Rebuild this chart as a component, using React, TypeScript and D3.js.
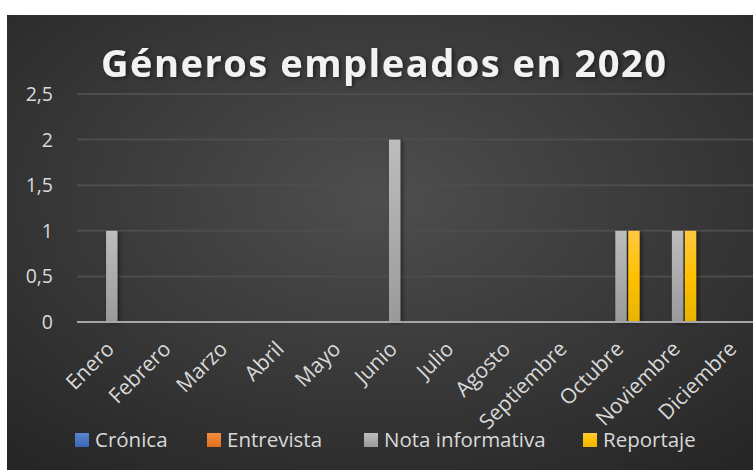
import React from 'react';
import * as d3 from 'd3';

const months = ['Enero', 'Febrero', 'Marzo', 'Abril', 'Mayo', 'Junio', 'Julio', 'Agosto', 'Septiembre', 'Octubre', 'Noviembre', 'Diciembre'];
const series = ['Crónica', 'Entrevista', 'Nota informativa', 'Reportaje'];
const cronica = [0, 0, 0, 0, 0, 0, 0, 0, 0, 0, 0, 0];
const entrevista = [0, 0, 0, 0, 0, 0, 0, 0, 0, 0, 0, 0];
const notaInformativa = [1, 0, 0, 0, 0, 2, 0, 0, 0, 1, 1, 0];
const reportaje = [0, 0, 0, 0, 0, 0, 0, 0, 0, 1, 1, 0];
const yTicks = [0, 0.5, 1, 1.5, 2, 2.5];

const seriesValues = [cronica, entrevista, notaInformativa, reportaje];
const gradIds = ['gBlue', 'gOrange', 'gGray', 'gGold'];

const W = 753, H = 470;
const margin = { top: 94, right: -3, bottom: 148, left: 77 };

const fmt = (v: number) => String(v).replace('.', ',');

export default function App() {
  const x0 = d3.scaleBand<string>()
    .domain(months)
    .range([margin.left, W - margin.right])
    .paddingInner(0.115)
    .paddingOuter(0.0575);

  const x1 = d3.scaleBand<string>()
    .domain(series)
    .range([0, x0.bandwidth()])
    .paddingInner(0.12);

  const y = d3.scaleLinear()
    .domain([0, 2.5])
    .range([H - margin.bottom, margin.top]);

  const font = "'Open Sans', 'Noto Sans', sans-serif";

  const legendX = [75, 207, 364, 583];

  return (
    <svg width={W} height={H} style={{ position: 'fixed', left: 0, top: 0 }}>
      <defs>
        <radialGradient id="bg" cx="50%" cy="40%" r="75%">
          <stop offset="0%" stopColor="#4e4e4e" />
          <stop offset="100%" stopColor="#262626" />
        </radialGradient>
        <linearGradient id="gGray" x1="0" y1="0" x2="0" y2="1">
          <stop offset="0%" stopColor="#bdbdbd" />
          <stop offset="100%" stopColor="#9a9a9a" />
        </linearGradient>
        <linearGradient id="gGold" x1="0" y1="0" x2="0" y2="1">
          <stop offset="0%" stopColor="#ffc940" />
          <stop offset="50%" stopColor="#ffc000" />
          <stop offset="100%" stopColor="#e8b400" />
        </linearGradient>
        <linearGradient id="gBlue" x1="0" y1="0" x2="0" y2="1">
          <stop offset="0%" stopColor="#5b85d0" />
          <stop offset="100%" stopColor="#3a66b8" />
        </linearGradient>
        <linearGradient id="gOrange" x1="0" y1="0" x2="0" y2="1">
          <stop offset="0%" stopColor="#f49040" />
          <stop offset="100%" stopColor="#e06e20" />
        </linearGradient>
        <filter id="shadow" x="-50%" y="-50%" width="200%" height="200%">
          <feDropShadow dx="2" dy="1" stdDeviation="2" floodColor="#000" floodOpacity="0.5" />
        </filter>
      </defs>

      <rect x={0} y={0} width={W} height={H} fill="#ffffff" />
      <rect x={7} y={15} width={W - 7} height={H - 15} fill="url(#bg)" />

      <text
        x={383.5}
        y={77}
        textAnchor="middle"
        fill="#f2f2f2"
        fontFamily={font}
        fontWeight={700}
        fontSize={38}
        textLength={565}
        lengthAdjust="spacing"
        filter="url(#shadow)"
      >
        Géneros empleados en 2020
      </text>

      {yTicks.map(t => (
        <g key={t}>
          {t > 0 && (
            <line x1={margin.left} x2={W} y1={y(t)} y2={y(t)} stroke="#4d4d4d" strokeWidth={2} />
          )}
          <text
            x={53}
            y={y(t)}
            dy="0.36em"
            textAnchor="end"
            fill="#d9d9d9"
            fontFamily={font}
            fontSize={19.5}
          >
            {fmt(t)}
          </text>
        </g>
      ))}

      {months.map((m, i) => (
        <g key={m} transform={`translate(${x0(m)}, 0)`}>
          {series.map((s, j) => {
            const v = seriesValues[j][i];
            if (!v) return null;
            return (
              <rect
                key={s}
                x={x1(s)}
                y={y(v)}
                width={x1.bandwidth()}
                height={y(0) - y(v)}
                fill={`url(#${gradIds[j]})`}
                filter="url(#shadow)"
              />
            );
          })}
        </g>
      ))}

      <line x1={margin.left} x2={W} y1={y(0)} y2={y(0)} stroke="#a6a6a6" strokeWidth={2} />

      {months.map(m => {
        const cx = (x0(m) as number) + x0.bandwidth() / 2;
        return (
          <text
            key={m}
            transform={`translate(${cx + 5}, ${y(0) + 23}) rotate(-45)`}
            dy="0.35em"
            textAnchor="end"
            fill="#d9d9d9"
            fontFamily={font}
            fontSize={21}
          >
            {m}
          </text>
        );
      })}

      {series.map((s, j) => (
        <g key={s} transform={`translate(${legendX[j]}, 440)`}>
          <rect x={0} y={-7} width={14} height={14} fill={`url(#${gradIds[j]})`} />
          <text x={20} y={0} dy="0.36em" fill="#d9d9d9" fontFamily={font} fontSize={20.5}>
            {s}
          </text>
        </g>
      ))}
    </svg>
  );
}
